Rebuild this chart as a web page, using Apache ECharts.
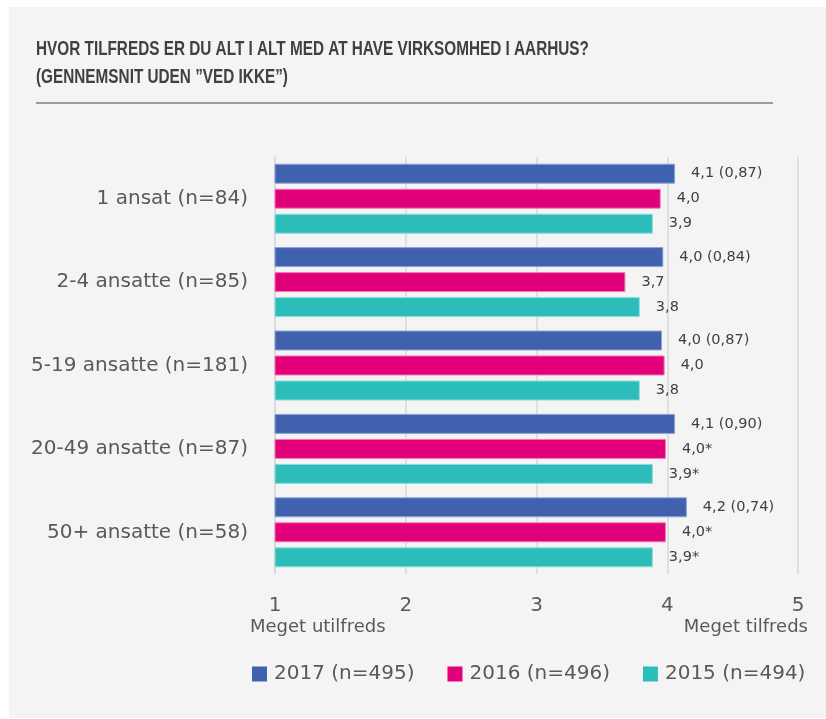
<!DOCTYPE html>
<html>
<head>
<meta charset="utf-8">
<script src="https://cdn.jsdelivr.net/npm/echarts@6/dist/echarts.min.js"></script>
<style>
  html, body { margin: 0; padding: 0; background: #ffffff; }
  #chart { position: absolute; left: 9px; top: 7px; width: 817px; height: 711px; background: #f4f4f4; }
</style>
</head>
<body>
<div id="chart"></div>
<script>
// kategorier (top til bund)
const categories = ["1 ansat (n=84)", "2-4 ansatte (n=85)", "5-19 ansatte (n=181)", "20-49 ansatte (n=87)", "50+ ansatte (n=58)"];
const seriesNames = ["2017 (n=495)", "2016 (n=496)", "2015 (n=494)"];
// gennemsnit
const v2017 = [4.06, 3.97, 3.96, 4.06, 4.15];
const v2016 = [3.95, 3.68, 3.98, 3.99, 3.99];
const v2015 = [3.89, 3.79, 3.79, 3.89, 3.89];
// viste etiketter
const lbl2017 = ["4,1 (0,87)", "4,0 (0,84)", "4,0 (0,87)", "4,1 (0,90)", "4,2 (0,74)"];
const lbl2016 = ["4,0", "3,7", "4,0", "4,0*", "4,0*"];
const lbl2015 = ["3,9", "3,8", "3,8", "3,9*", "3,9*"];
const xTicks = [1, 2, 3, 4, 5];

const colors = ["#4062ae", "#e2007a", "#2cbdbb"];
const borders = ["#8fa3d6", "#f279b5", "#8edbd9"];

const font = "'DejaVu Sans', Verdana, sans-serif";

function makeSeries(name, values, labels, i) {
  return {
    name: name,
    type: "bar",
    data: values,
    barWidth: 20,
    barGap: "25%",
    itemStyle: { color: colors[i], borderColor: borders[i], borderWidth: 1 },
    label: {
      show: true,
      position: "right",
      distance: 16,
      color: "#404040",
      fontFamily: font,
      fontSize: 14.5,
      formatter: function (p) { return labels[p.dataIndex]; }
    }
  };
}

let myChart = echarts.init(document.getElementById("chart"));
myChart.setOption({
  animation: false,
  textStyle: { fontFamily: font },
  grid: { left: 266, right: 28, top: 150, bottom: 144 },
  xAxis: {
    type: "value",
    min: 1,
    max: 5,
    interval: 1,
    axisLine: { show: false },
    axisTick: { show: false },
    splitLine: { lineStyle: { color: "#d9d9d9", width: 1.5 } },
    axisLabel: {
      color: "#595959",
      fontSize: 20,
      margin: 22,
      formatter: function (v) { return xTicks.indexOf(v) >= 0 ? String(v) : ""; }
    }
  },
  yAxis: {
    type: "category",
    data: categories,
    inverse: true,
    axisLine: { show: true, lineStyle: { color: "#d9d9d9", width: 1.5 } },
    axisTick: { show: false },
    axisLabel: { color: "#595959", fontSize: 20, margin: 27 }
  },
  legend: {
    data: seriesNames,
    left: 238,
    top: 652,
    icon: "rect",
    itemWidth: 15,
    itemHeight: 15,
    itemGap: 33,
    itemStyle: { borderWidth: 0 },
    textStyle: { color: "#595959", fontSize: 20, fontFamily: font, padding: [0, 0, 0, 2] }
  },
  graphic: [
    {
      type: "text",
      x: 27,
      y: 28,
      scaleX: 0.766,
      style: {
        text: "HVOR TILFREDS ER DU ALT I ALT MED AT HAVE VIRKSOMHED I AARHUS?\n(GENNEMSNIT UDEN \u201DVED IKKE\u201D)",
        font: "bold 20px 'Liberation Sans', Arial, sans-serif",
        fill: "#404040",
        lineHeight: 28
      }
    },
    {
      type: "line",
      shape: { x1: 27, y1: 96, x2: 764, y2: 96 },
      style: { stroke: "#808080", lineWidth: 1.5 }
    },
    {
      type: "text",
      left: 241,
      top: 611,
      style: { text: "Meget utilfreds", font: "18px 'DejaVu Sans', sans-serif", fill: "#595959" }
    },
    {
      type: "text",
      right: 18,
      top: 611,
      style: { text: "Meget tilfreds", font: "18px 'DejaVu Sans', sans-serif", fill: "#595959", align: "right" }
    }
  ],
  series: [
    makeSeries(seriesNames[0], v2017, lbl2017, 0),
    makeSeries(seriesNames[1], v2016, lbl2016, 1),
    makeSeries(seriesNames[2], v2015, lbl2015, 2)
  ]
});
</script>
</body>
</html>
